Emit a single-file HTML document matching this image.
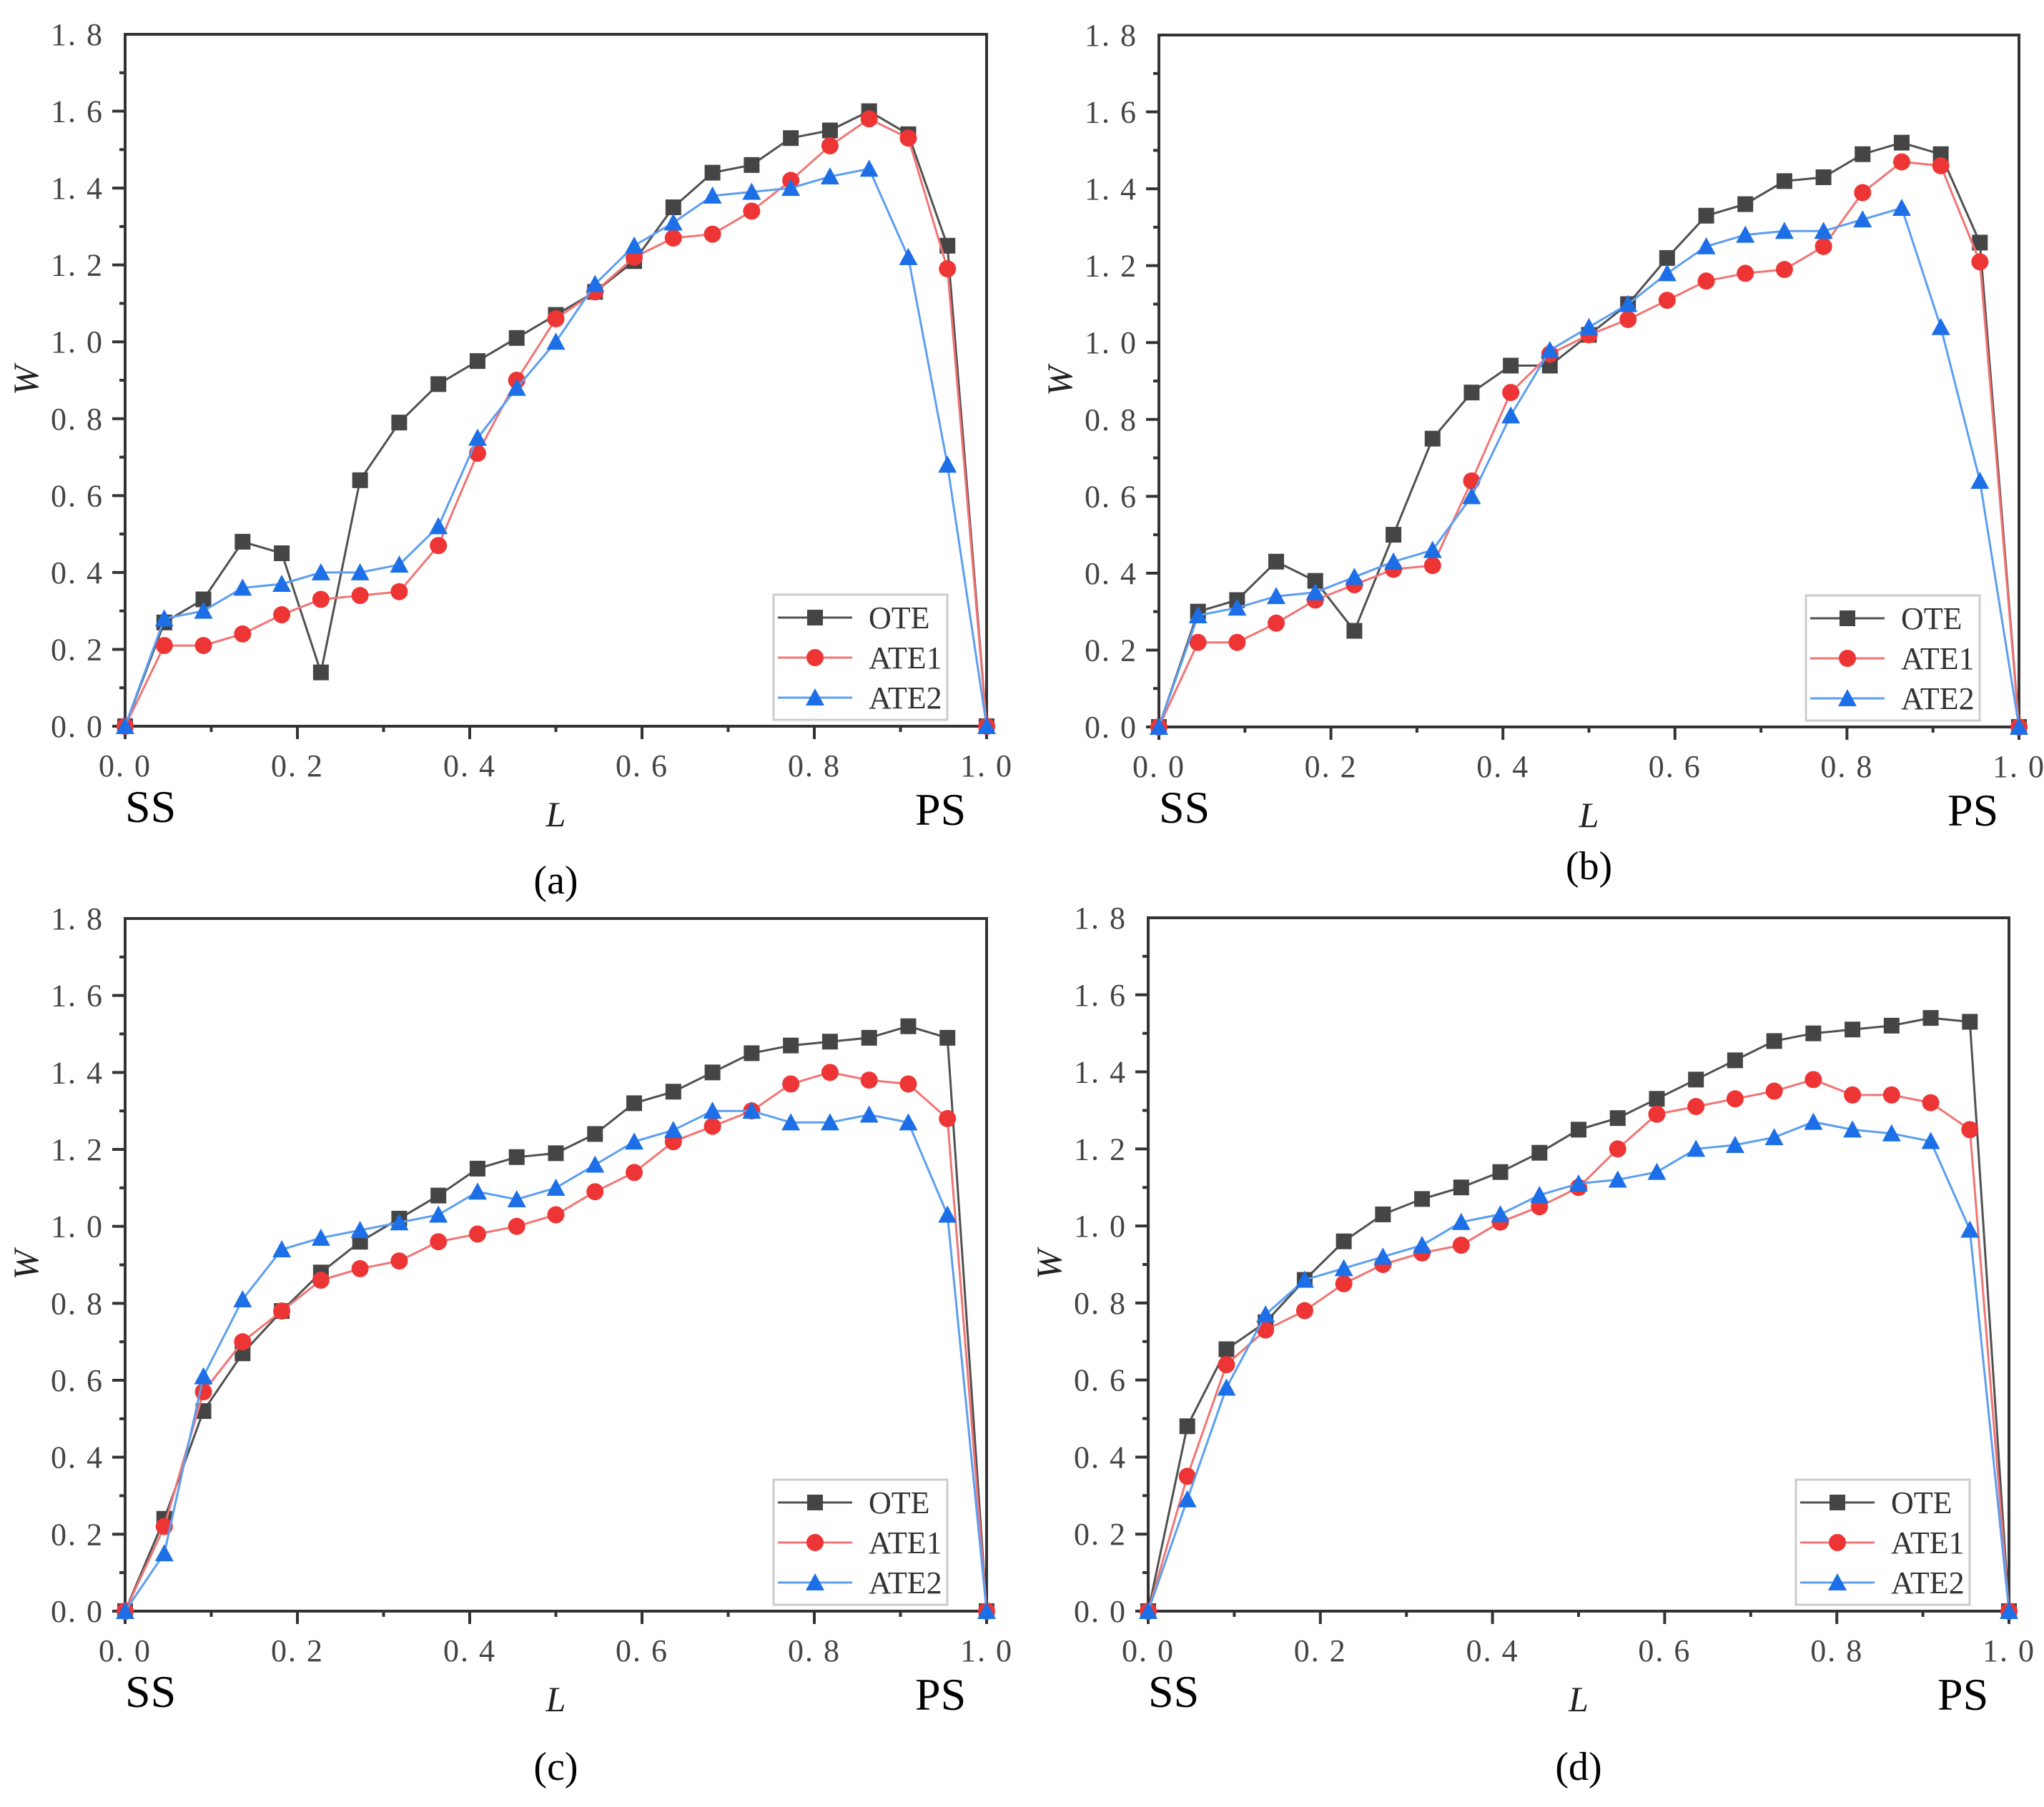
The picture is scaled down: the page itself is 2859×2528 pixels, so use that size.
<!DOCTYPE html>
<html><head><meta charset="utf-8">
<style>
html,body{margin:0;padding:0;background:#fff;}
svg{display:block;}
text{font-family:"Liberation Serif","Noto Serif CJK SC",serif;}
</style></head>
<body>
<svg id="fig" width="2859" height="2528" viewBox="0 0 2859 2528" xmlns="http://www.w3.org/2000/svg"></svg>
<script>
const xCats = [];
for (let k = 0; k <= 22; k++) xCats.push(k / 22);
const xTicks = ["0.0","0.2","0.4","0.6","0.8","1.0"];
const yTicks = ["0.0","0.2","0.4","0.6","0.8","1.0","1.2","1.4","1.6","1.8"];
const seriesNames = ["OTE","ATE1","ATE2"];

const aOTE  = [0,0.27,0.33,0.48,0.45,0.14,0.64,0.79,0.89,0.95,1.01,1.07,1.13,1.21,1.35,1.44,1.46,1.53,1.55,1.60,1.54,1.25,0];
const aATE1 = [0,0.21,0.21,0.24,0.29,0.33,0.34,0.35,0.47,0.71,0.90,1.06,1.13,1.22,1.27,1.28,1.34,1.42,1.51,1.58,1.53,1.19,0];
const aATE2 = [0,0.28,0.30,0.36,0.37,0.40,0.40,0.42,0.52,0.75,0.88,1.00,1.15,1.25,1.31,1.38,1.39,1.40,1.43,1.45,1.22,0.68,0];

const bOTE  = [0,0.30,0.33,0.43,0.38,0.25,0.50,0.75,0.87,0.94,0.94,1.02,1.10,1.22,1.33,1.36,1.42,1.43,1.49,1.52,1.49,1.26,0];
const bATE1 = [0,0.22,0.22,0.27,0.33,0.37,0.41,0.42,0.64,0.87,0.97,1.02,1.06,1.11,1.16,1.18,1.19,1.25,1.39,1.47,1.46,1.21,0];
const bATE2 = [0,0.29,0.31,0.34,0.35,0.39,0.43,0.46,0.60,0.81,0.98,1.04,1.10,1.18,1.25,1.28,1.29,1.29,1.32,1.35,1.04,0.64,0];

const cOTE  = [0,0.24,0.52,0.67,0.78,0.88,0.96,1.02,1.08,1.15,1.18,1.19,1.24,1.32,1.35,1.40,1.45,1.47,1.48,1.49,1.52,1.49,0];
const cATE1 = [0,0.22,0.57,0.70,0.78,0.86,0.89,0.91,0.96,0.98,1.00,1.03,1.09,1.14,1.22,1.26,1.30,1.37,1.40,1.38,1.37,1.28,0];
const cATE2 = [0,0.15,0.61,0.81,0.94,0.97,0.99,1.01,1.03,1.09,1.07,1.10,1.16,1.22,1.25,1.30,1.30,1.27,1.27,1.29,1.27,1.03,0];

const dOTE  = [0,0.48,0.68,0.75,0.86,0.96,1.03,1.07,1.10,1.14,1.19,1.25,1.28,1.33,1.38,1.43,1.48,1.50,1.51,1.52,1.54,1.53,0];
const dATE1 = [0,0.35,0.64,0.73,0.78,0.85,0.90,0.93,0.95,1.01,1.05,1.10,1.20,1.29,1.31,1.33,1.35,1.38,1.34,1.34,1.32,1.25,0];
const dATE2 = [0,0.29,0.58,0.77,0.86,0.89,0.92,0.95,1.01,1.03,1.08,1.11,1.12,1.14,1.20,1.21,1.23,1.27,1.25,1.24,1.22,0.99,0];

const panels = [
  {id:"a", L:175, R:1380, T:48, B:1016, cap:"(a)", capY:1250, data:[aOTE,aATE1,aATE2]},
  {id:"b", L:1621, R:2824, T:49, B:1017, cap:"(b)", capY:1230, data:[bOTE,bATE1,bATE2]},
  {id:"c", L:175, R:1380, T:1285, B:2254, cap:"(c)", capY:2490, data:[cOTE,cATE1,cATE2]},
  {id:"d", L:1606, R:2810, T:1284, B:2254, cap:"(d)", capY:2490, data:[dOTE,dATE1,dATE2]}
];
const lineCol = ["#505050","#f27474","#5b9ef2"];
const markCol = ["#454545","#ee3535","#1c6fe6"];
const NS = "http://www.w3.org/2000/svg";
const svg = document.getElementById("fig");
function mk(tag, attrs, parent, txt){
  const e = document.createElementNS(NS, tag);
  for (const k in attrs) e.setAttribute(k, attrs[k]);
  if (txt !== undefined) e.textContent = txt;
  (parent || svg).appendChild(e);
  return e;
}
function marker(g, kind, x, y, col){
  const s = 11;
  let m;
  if (kind === 0) m = mk("rect", {x:x-s, y:y-s, width:2*s, height:2*s, fill:col}, g);
  else if (kind === 1) m = mk("circle", {cx:x, cy:y, r:s+1, fill:col}, g);
  else m = mk("polygon", {points:`${x},${y-s-2} ${x+s+2},${y+s} ${x-s-2},${y+s}`, fill:col}, g);
  return m;
}
panels.forEach(p => {
  const g = mk("g", {});
  
  
  const sx = v => p.L + v * (p.R - p.L);
  const sy = v => p.B - v / 1.8 * (p.B - p.T);
  const fr = mk("rect", {x:p.L, y:p.T, width:p.R-p.L, height:p.B-p.T, fill:"none", stroke:"#333", "stroke-width":4}, g);
  
  
  for (let i = 0; i <= 17; i++) {
    const v = i * 0.1, y = sy(v), major = i % 2 === 0;
    mk("line", {x1:p.L - (major?18:8), x2:p.L, y1:y, y2:y, stroke:"#333", "stroke-width":4}, g);
  }
  yTicks.forEach((t, i) => {
    const e = mk("text", {x:p.L - 30, y:sy(i*0.2) + 15, "text-anchor":"end", "font-size":44, fill:"#444", "letter-spacing":"2"}, g, t.replace(".", ". "));
    
    
  });
  for (let i = 0; i <= 10; i++) {
    const x = sx(i * 0.1), major = i % 2 === 0;
    mk("line", {x1:x, x2:x, y1:p.B, y2:p.B + (major?18:8), stroke:"#333", "stroke-width":4}, g);
  }
  xTicks.forEach((t, i) => {
    const e = mk("text", {x:sx(i*0.2), y:p.B + 70, "text-anchor":"middle", "font-size":44, fill:"#444", "letter-spacing":"2"}, g, t.replace(".", ". "));
    
    
  });
  const yt = mk("text", {x:0, y:0, transform:`translate(${p.L-122},${(p.T+p.B)/2}) rotate(-90)`, "text-anchor":"middle", "font-size":50, "font-style":"italic", fill:"#222"}, g, "W");
  
  
  const xt = mk("text", {x:(p.L+p.R)/2, y:p.B + 140, "text-anchor":"middle", "font-size":50, "font-style":"italic", fill:"#222"}, g, "L");
  
  
  const ss = mk("text", {x:p.L, y:p.B + 134, "font-size":64, fill:"#000"}, g, "SS");
  
  
  const ps = mk("text", {x:p.R - 100, y:p.B + 138, "font-size":64, fill:"#000"}, g, "PS");
  
  
  const cp = mk("text", {x:(p.L+p.R)/2, y:p.capY, "text-anchor":"middle", "font-size":56, fill:"#000"}, g, p.cap);
  
  
  p.data.forEach((arr, si) => {
    const sg = mk("g", {}, g);
    
    
    const pts = arr.map((v, k) => `${sx(xCats[k]).toFixed(1)},${sy(v).toFixed(1)}`).join(" ");
    mk("polyline", {points:pts, fill:"none", stroke:lineCol[si], "stroke-width":3}, sg);
    arr.forEach((v, k) => {
      const m = marker(sg, si, sx(xCats[k]), sy(v), markCol[si]);
      
      
    });
  });
  const lg = mk("g", {}, g);
  
  
  const lx = p.R - 298, ly = p.B - 184;
  mk("rect", {x:lx, y:ly, width:243, height:175, fill:"#fff", stroke:"#ccc", "stroke-width":3}, lg);
  seriesNames.forEach((n, si) => {
    const y = ly + 32 + si * 56;
    const le = mk("g", {}, lg);
    
    
    mk("line", {x1:lx+6, x2:lx+110, y1:y, y2:y, stroke:lineCol[si], "stroke-width":3}, le);
    marker(le, si, lx+58, y, markCol[si]);
    mk("text", {x:lx+133, y:y+15, "font-size":44, fill:"#333"}, le, n);
  });
});
</script>
</body></html>
